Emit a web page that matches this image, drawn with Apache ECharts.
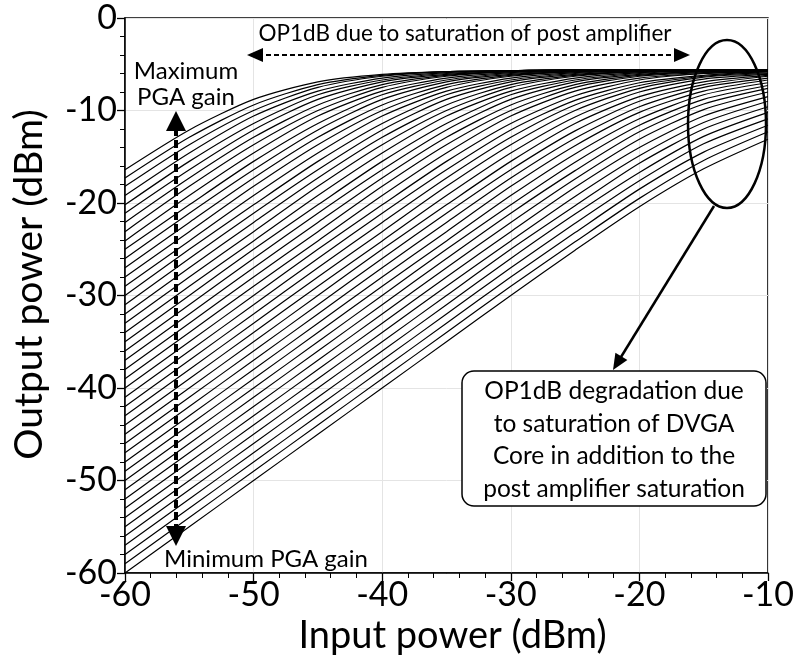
<!DOCTYPE html>
<html>
<head>
<meta charset="utf-8">
<script src="https://cdn.jsdelivr.net/npm/echarts@6/dist/echarts.min.js"></script>
<style>
html,body{margin:0;padding:0;background:#fff;}
#chart{width:797px;height:662px;}
</style>
</head>
<body>
<div id="chart"></div>
<script>
// Input power sample points (dBm)
const inputPower = [-60, -55, -50, -45, -40, -35, -30, -25, -20, -15, -10];
// Output power (dBm) of each PGA gain state, from minimum to maximum gain
const outputPower = [
  [-60, -55, -50, -45, -40, -35, -30, -25.1, -20.4, -16.3, -13.1],
  [-59, -54, -49, -44, -39, -34, -29, -24.2, -19.5, -15.4, -12.3],
  [-58, -53, -48, -43, -38, -33, -28, -23.2, -18.5, -14.5, -11.6],
  [-57, -52, -47, -42, -37, -32, -27, -22.2, -17.6, -13.6, -10.9],
  [-56, -51, -46, -41, -36, -31, -26, -21.2, -16.7, -12.8, -10.2],
  [-55, -50, -45, -40, -35, -30, -25, -20.3, -15.7, -12.0, -9.6],
  [-54, -49, -44, -39, -34, -29, -24.1, -19.3, -14.9, -11.3, -9.0],
  [-53, -48, -43, -38, -33, -28, -23.1, -18.3, -14.0, -10.6, -8.5],
  [-52, -47, -42, -37, -32, -27, -22.1, -17.4, -13.1, -9.9, -8.0],
  [-51, -46, -41, -36, -31, -26, -21.1, -16.5, -12.3, -9.3, -7.6],
  [-50, -45, -40, -35, -30, -25, -20.2, -15.6, -11.6, -8.8, -7.3],
  [-49, -44, -39, -34, -29, -24.1, -19.2, -14.7, -10.9, -8.3, -7.0],
  [-48, -43, -38, -33, -28, -23.1, -18.2, -13.8, -10.2, -7.9, -6.7],
  [-47, -42, -37, -32, -27, -22.1, -17.3, -13.0, -9.6, -7.5, -6.5],
  [-46, -41, -36, -31, -26, -21.1, -16.4, -12.2, -9.0, -7.2, -6.3],
  [-45, -40, -35, -30, -25, -20.2, -15.5, -11.4, -8.5, -6.9, -6.2],
  [-44, -39, -34, -29, -24.1, -19.2, -14.6, -10.7, -8.0, -6.6, -6.1],
  [-43, -38, -33, -28, -23.1, -18.2, -13.7, -10.0, -7.6, -6.4, -6.0],
  [-42, -37, -32, -27, -22.1, -17.3, -12.9, -9.4, -7.3, -6.3, -5.9],
  [-41, -36, -31, -26, -21.1, -16.4, -12.1, -8.9, -7.0, -6.2, -5.8],
  [-40, -35, -30, -25, -20.2, -15.5, -11.4, -8.4, -6.7, -6.0, -5.8],
  [-39, -34, -29, -24.1, -19.2, -14.6, -10.6, -7.9, -6.5, -6.0, -5.8],
  [-38, -33, -28, -23.1, -18.2, -13.7, -10.0, -7.5, -6.3, -5.9, -5.7],
  [-37, -32, -27, -22.1, -17.3, -12.9, -9.4, -7.2, -6.2, -5.8, -5.7],
  [-36, -31, -26, -21.1, -16.4, -12.1, -8.8, -6.9, -6.1, -5.8, -5.7],
  [-35, -30, -25, -20.2, -15.5, -11.4, -8.3, -6.7, -6.0, -5.7, -5.7],
  [-34, -29, -24.1, -19.2, -14.6, -10.6, -7.9, -6.5, -5.9, -5.7, -5.7],
  [-33, -28, -23.1, -18.2, -13.7, -10.0, -7.5, -6.3, -5.8, -5.7, -5.7],
  [-32, -27, -22.1, -17.3, -12.9, -9.4, -7.2, -6.2, -5.8, -5.7, -5.6],
  [-31, -26, -21.1, -16.4, -12.1, -8.8, -6.9, -6.1, -5.8, -5.7, -5.6],
  [-30, -25, -20.2, -15.5, -11.4, -8.3, -6.7, -6.0, -5.7, -5.7, -5.6],
  [-29, -24.1, -19.2, -14.6, -10.6, -7.9, -6.5, -5.9, -5.7, -5.6, -5.6],
  [-28, -23.1, -18.2, -13.7, -10.0, -7.5, -6.3, -5.8, -5.7, -5.6, -5.6],
  [-27, -22.1, -17.3, -12.9, -9.4, -7.2, -6.2, -5.8, -5.7, -5.6, -5.6],
  [-26, -21.1, -16.4, -12.1, -8.8, -6.9, -6.1, -5.8, -5.7, -5.6, -5.6],
  [-25, -20.2, -15.5, -11.4, -8.3, -6.7, -6.0, -5.7, -5.6, -5.6, -5.6],
  [-24.1, -19.2, -14.6, -10.6, -7.9, -6.5, -5.9, -5.7, -5.6, -5.6, -5.6],
  [-23.1, -18.2, -13.7, -10.0, -7.5, -6.3, -5.8, -5.7, -5.6, -5.6, -5.6],
  [-22.1, -17.3, -12.9, -9.4, -7.2, -6.2, -5.8, -5.7, -5.6, -5.6, -5.6],
  [-21.1, -16.4, -12.1, -8.8, -6.9, -6.1, -5.8, -5.7, -5.6, -5.6, -5.6],
  [-20.2, -15.5, -11.4, -8.3, -6.7, -6.0, -5.7, -5.6, -5.6, -5.6, -5.6],
  [-19.2, -14.6, -10.6, -7.9, -6.5, -5.9, -5.7, -5.6, -5.6, -5.6, -5.6],
  [-18.2, -13.7, -10.0, -7.5, -6.3, -5.8, -5.7, -5.6, -5.6, -5.6, -5.6],
  [-17.3, -12.9, -9.4, -7.2, -6.2, -5.8, -5.7, -5.6, -5.6, -5.6, -5.6],
  [-16.4, -12.1, -8.8, -6.9, -6.1, -5.8, -5.7, -5.6, -5.6, -5.6, -5.6]
];
const xAxisTitle = 'Input power (dBm)';
const yAxisTitle = 'Output power (dBm)';
const topNote = 'OP1dB due to saturation of post amplifier';
const maxNote = ['Maximum', 'PGA gain'];
const minNote = 'Minimum PGA gain';
const boxNote = ['OP1dB degradation due', 'to saturation of DVGA', 'Core in addition to the', 'post amplifier saturation'];

const FONT = 'Lato';
const chart = echarts.init(document.getElementById('chart'), null, {renderer: 'canvas'});

const series = outputPower.map(function (row, i) {
  return {
    type: 'line',
    name: 'G' + i,
    data: inputPower.map(function (x, j) { return [x, row[j]]; }),
    showSymbol: false,
    symbol: 'none',
    smooth: 0.25,
    lineStyle: {color: '#000', width: 1.2},
    silent: true,
    z: 3
  };
});

function axisCommon() {
  return {
    type: 'value',
    interval: 10,
    axisLine: {show: true, onZero: false, lineStyle: {color: '#000', width: 1.5}},
    axisTick: {show: true, inside: false, length: 8, lineStyle: {color: '#000', width: 1.3}},
    minorTick: {show: true, splitNumber: 5, length: 5, lineStyle: {color: '#000', width: 1}},
    splitLine: {show: true, lineStyle: {color: '#e4e4e4', width: 1}},
    minorSplitLine: {show: false},
    axisLabel: {color: '#000', fontFamily: FONT, fontSize: 34},
    nameLocation: 'middle'
  };
}

const xAxis = Object.assign(axisCommon(), {
  min: -60, max: -10, name: xAxisTitle, nameGap: 39,
  nameTextStyle: {color: '#000', fontFamily: FONT, fontSize: 38, padding: [0, 0, 0, 12]}
});
xAxis.axisLabel = Object.assign({}, xAxis.axisLabel, {margin: 5});
const yAxis = Object.assign(axisCommon(), {
  min: -60, max: 0, name: yAxisTitle, nameGap: 76,
  nameTextStyle: {color: '#000', fontFamily: FONT, fontSize: 39, padding: [0, 0, 0, 22]}
});
yAxis.axisLabel = Object.assign({}, yAxis.axisLabel, {margin: 8});

chart.setOption({
  animation: false,
  backgroundColor: '#fff',
  grid: {left: 125, right: 21, top: 18, bottom: 89, show: true, borderColor: '#000', borderWidth: 1.5, containLabel: false},
  xAxis: xAxis,
  yAxis: yAxis,
  series: series
});

// Annotations (pixel positions)
const black = '#000';
function tri(p1, p2, p3) {
  return {type: 'polygon', shape: {points: [p1, p2, p3]}, style: {fill: black}, z: 10};
}
const txt = function (x, y, s, size, align) {
  return {type: 'text', x: x, y: y, z: 11,
    style: {text: s, fill: black, font: size + 'px ' + FONT, textAlign: align || 'center', textVerticalAlign: 'middle'}};
};
const g = [];
// top note and horizontal arrow
g.push(txt(465, 34, topNote, 22.5));
g.push({type: 'line', shape: {x1: 258, y1: 55, x2: 680, y2: 55}, style: {stroke: black, lineWidth: 2, lineDash: [5, 3]}, z: 10});
g.push(tri([247, 55], [263, 48], [263, 62]));
g.push(tri([690, 55], [674, 48], [674, 62]));
// Maximum PGA gain
g.push(txt(186, 71, maxNote[0], 24));
g.push(txt(186, 97, maxNote[1], 24));
// vertical arrow
g.push({type: 'line', shape: {x1: 176, y1: 128, x2: 176, y2: 528}, style: {stroke: black, lineWidth: 4, lineDash: [8, 4]}, z: 10});
g.push(tri([176, 111], [166, 131], [186, 131]));
g.push(tri([176, 546], [166, 526], [186, 526]));
// Minimum PGA gain
g.push(txt(266, 559, minNote, 24));
// ellipse
g.push({type: 'ellipse', shape: {cx: 727, cy: 124, rx: 39, ry: 84}, style: {fill: null, stroke: black, lineWidth: 2.5}, z: 10});
// arrow from ellipse to box
g.push({type: 'line', shape: {x1: 714, y1: 206, x2: 621, y2: 357}, style: {stroke: black, lineWidth: 2.5}, z: 10});
g.push(tri([613, 370], [627.4, 360.1], [615.4, 352.7]));
// box
g.push({type: 'rect', shape: {x: 462, y: 371, width: 304, height: 135, r: 12}, style: {fill: '#fff', stroke: black, lineWidth: 1.5}, z: 10});
boxNote.forEach(function (s, i) { g.push(txt(614, 391 + i * 32.7, s, 24.5)); });

chart.setOption({graphic: g});
</script>
</body>
</html>
